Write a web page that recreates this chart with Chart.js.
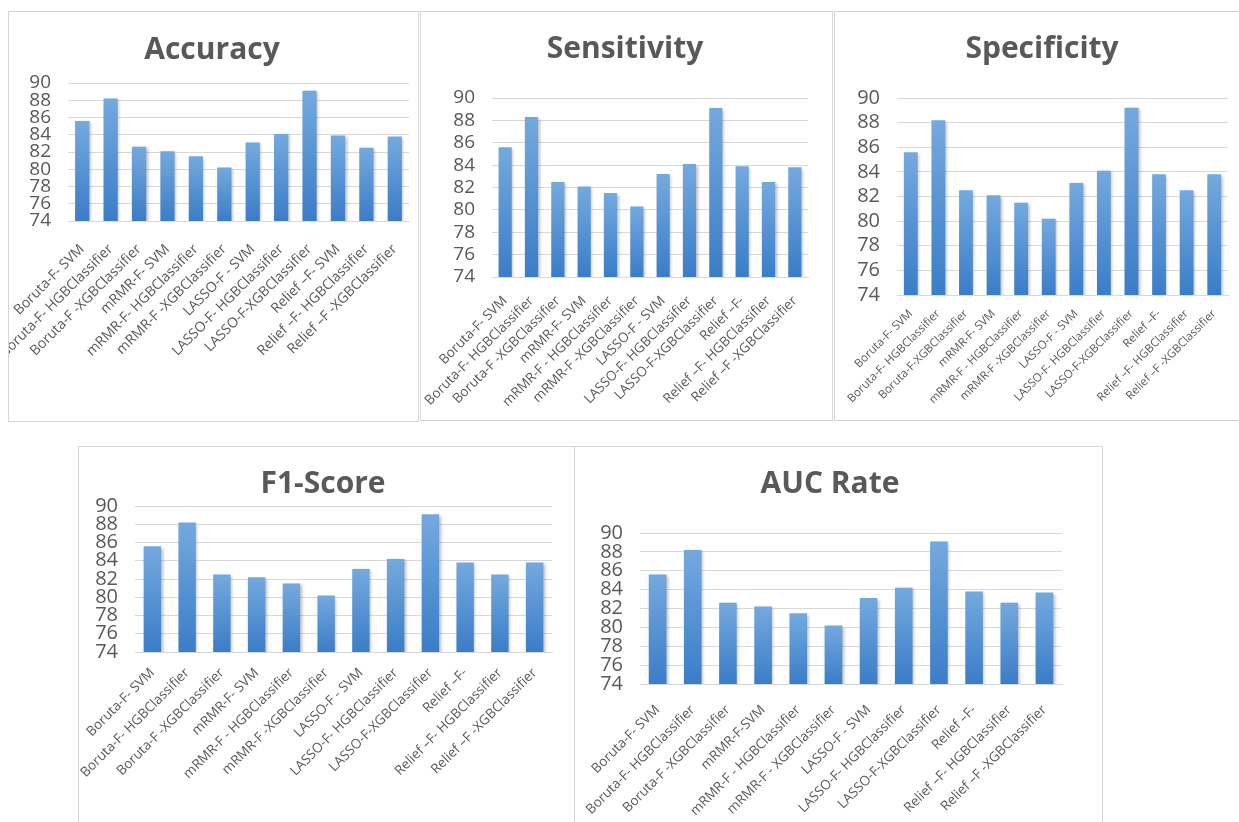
<!DOCTYPE html>
<html>
<head>
<meta charset="utf-8">
<title>Feature selection and classifier comparison</title>
<script src="https://cdn.jsdelivr.net/npm/chart.js@4.4.1/dist/chart.umd.min.js"></script>
<style>
  html, body { margin: 0; padding: 0; background: #ffffff; }
  body { position: relative; width: 1239px; height: 822px; overflow: hidden; }
  .panel { position: absolute; box-sizing: border-box; border: 1px solid #d6d6d6; background: #ffffff; overflow: hidden; }
  .panel canvas { position: absolute; left: 0; top: 0; }
</style>
</head>
<body>
<div class="panel" style="left:8px;top:11px;width:411px;height:411px"><canvas id="accuracyChart" width="409" height="409"></canvas></div>
<div class="panel" style="left:420px;top:11px;width:413px;height:410px"><canvas id="sensitivityChart" width="411" height="408"></canvas></div>
<div class="panel" style="left:834px;top:11px;width:416px;height:410px"><canvas id="specificityChart" width="414" height="408"></canvas></div>
<div class="panel" style="left:78px;top:446px;width:497px;height:380px"><canvas id="f1Chart" width="495" height="378"></canvas></div>
<div class="panel" style="left:574px;top:446px;width:529px;height:380px"><canvas id="aucChart" width="527" height="378"></canvas></div>

<script>
// ---- data ----
const accuracyLabels = ["Boruta-F- SVM", "Boruta-F- HGBClassifier", "Boruta-F -XGBClassifier", "mRMR-F- SVM", "mRMR-F- HGBClassifier", "mRMR-F -XGBClassifier", "LASSO-F - SVM", "LASSO-F- HGBClassifier", "LASSO-F-XGBClassifier", "Relief \u2013F- SVM", "Relief \u2013F- HGBClassifier", "Relief \u2013F -XGBClassifier"];
const accuracyValues = [85.6, 88.2, 82.6, 82.1, 81.5, 80.2, 83.1, 84.1, 89.1, 83.9, 82.5, 83.8];

const sensitivityLabels = ["Boruta-F- SVM", "Boruta-F- HGBClassifier", "Boruta-F -XGBClassifier", "mRMR-F- SVM", "mRMR-F - HGBClassifier", "mRMR-F -XGBClassifier", "LASSO-F - SVM", "LASSO-F- HGBClassifier", "LASSO-F-XGBClassifier", "Relief \u2013F-", "Relief \u2013F- HGBClassifier", "Relief \u2013F -XGBClassifier"];
const sensitivityValues = [85.6, 88.3, 82.5, 82.1, 81.5, 80.3, 83.2, 84.1, 89.1, 83.9, 82.5, 83.8];

const specificityLabels = ["Boruta-F- SVM", "Boruta-F- HGBClassifier", "Boruta-F-XGBClassifier", "mRMR-F- SVM", "mRMR-F - HGBClassifier", "mRMR-F -XGBClassifier", "LASSO-F - SVM", "LASSO-F- HGBClassifier", "LASSO-F-XGBClassifier", "Relief \u2013F-", "Relief \u2013F- HGBClassifier", "Relief \u2013F -XGBClassifier"];
const specificityValues = [85.6, 88.2, 82.5, 82.1, 81.5, 80.2, 83.1, 84.1, 89.2, 83.8, 82.5, 83.8];

const f1Labels = ["Boruta-F- SVM", "Boruta-F- HGBClassifier", "Boruta-F -XGBClassifier", "mRMR-F- SVM", "mRMR-F - HGBClassifier", "mRMR-F -XGBClassifier", "LASSO-F - SVM", "LASSO-F- HGBClassifier", "LASSO-F-XGBClassifier", "Relief \u2013F-", "Relief \u2013F- HGBClassifier", "Relief \u2013F -XGBClassifier"];
const f1Values = [85.6, 88.2, 82.5, 82.2, 81.5, 80.2, 83.1, 84.2, 89.1, 83.8, 82.5, 83.8];

const aucLabels = ["Boruta-F- SVM", "Boruta-F- HGBClassifier", "Boruta-F -XGBClassifier", "mRMR-F-SVM", "mRMR-F - HGBClassifier", "mRMR-F - XGBClassifier", "LASSO-F - SVM", "LASSO-F- HGBClassifier", "LASSO-F-XGBClassifier", "Relief \u2013F-", "Relief \u2013F- HGBClassifier", "Relief \u2013F -XGBClassifier"];
const aucValues = [85.6, 88.2, 82.6, 82.2, 81.5, 80.2, 83.1, 84.2, 89.1, 83.8, 82.6, 83.7];

const yAxisMin = 74;
const yAxisMax = 90;
const yAxisStep = 2;

// ---- styling ----
Chart.defaults.font.family = '"Open Sans", "Noto Sans", sans-serif';
Chart.defaults.color = '#595959';

// Each bar gets its own top-to-bottom gradient, like an Office chart fill.
function barFill(ctx) {
  const chart = ctx.chart;
  if (!chart.chartArea || ctx.type !== 'data' || !ctx.parsed) return '#5b9bd5';
  const y = chart.scales.y;
  const top = y.getPixelForValue(ctx.parsed.y);
  const bottom = y.getPixelForValue(y.min);
  const g = chart.ctx.createLinearGradient(0, top, 0, bottom);
  g.addColorStop(0, '#74a9de');
  g.addColorStop(1, '#3a7dc8');
  return g;
}

// Soft drop shadow behind the bars.
const barShadow = {
  id: 'barShadow',
  beforeDatasetsDraw(chart) {
    const c = chart.ctx;
    c.save();
    c.shadowColor = 'rgba(0, 0, 0, 0.28)';
    c.shadowBlur = 3;
    c.shadowOffsetX = 1.5;
    c.shadowOffsetY = 1.5;
  },
  afterDatasetsDraw(chart) {
    chart.ctx.restore();
  }
};

// box: canvas-local plot rectangle and title placement
function makeChart(id, title, labels, values, box) {
  const canvas = document.getElementById(id);
  const W = canvas.width, H = canvas.height;
  const titleSize = 30, titleLine = titleSize * 1.2;
  const padRight = W - box.right;
  const padLeft = 2 * box.titleX - W + padRight;
  return new Chart(canvas, {
    type: 'bar',
    data: {
      labels: labels,
      datasets: [{
        data: values,
        backgroundColor: barFill,
        borderWidth: 0,
        barPercentage: 1,
        categoryPercentage: 0.5
      }]
    },
    options: {
      responsive: false,
      animation: false,
      devicePixelRatio: 1,
      layout: { padding: { left: padLeft, right: padRight, top: 0, bottom: 0 } },
      plugins: {
        legend: { display: false },
        tooltip: { enabled: false },
        title: {
          display: true,
          text: title,
          color: '#595959',
          font: { size: titleSize, weight: 'bold', lineHeight: 1.2 },
          padding: { top: box.titleY - titleLine / 2, bottom: box.top - (box.titleY + titleLine / 2) }
        }
      },
      scales: {
        x: {
          grid: { display: false, drawTicks: false },
          border: { display: true, color: '#d9d9d9', width: 1 },
          ticks: {
            autoSkip: false,
            minRotation: 45,
            maxRotation: 45,
            padding: box.xPad,
            color: '#595959',
            font: { size: box.xFont }
          },
          afterFit(scale) {
            // long slanted labels may run past the panel edge instead of squeezing the plot
            scale.height = H - box.bottom;
            scale.paddingLeft = 0;
            scale.paddingRight = 0;
          }
        },
        y: {
          min: yAxisMin,
          max: yAxisMax,
          grid: { color: '#d9d9d9', lineWidth: 1, drawTicks: false },
          border: { display: false },
          ticks: {
            stepSize: yAxisStep,
            autoSkip: false,
            padding: 17,
            color: '#595959',
            font: { size: box.yFont, lineHeight: 1 }
          },
          afterFit(scale) { scale.width = box.left - padLeft; }
        }
      }
    },
    plugins: [barShadow]
  });
}

makeChart('accuracyChart', 'Accuracy', accuracyLabels, accuracyValues,
  { left: 59, top: 71, right: 400, bottom: 209, titleX: 203, titleY: 38, xFont: 14, yFont: 19, xPad: 20 });
makeChart('sensitivityChart', 'Sensitivity', sensitivityLabels, sensitivityValues,
  { left: 71, top: 86, right: 387, bottom: 265, titleX: 204, titleY: 37, xFont: 13.5, yFont: 19, xPad: 16 });
makeChart('specificityChart', 'Specificity', specificityLabels, specificityValues,
  { left: 62, top: 86, right: 393, bottom: 283, titleX: 207, titleY: 37, xFont: 11.5, yFont: 20, xPad: 12 });
makeChart('f1Chart', 'F1-Score', f1Labels, f1Values,
  { left: 56, top: 59, right: 473, bottom: 205, titleX: 244, titleY: 37, xFont: 13.5, yFont: 20, xPad: 13 });
makeChart('aucChart', 'AUC Rate', aucLabels, aucValues,
  { left: 65, top: 86, right: 487, bottom: 237, titleX: 255, titleY: 37, xFont: 13.5, yFont: 20, xPad: 18 });
</script>
</body>
</html>
